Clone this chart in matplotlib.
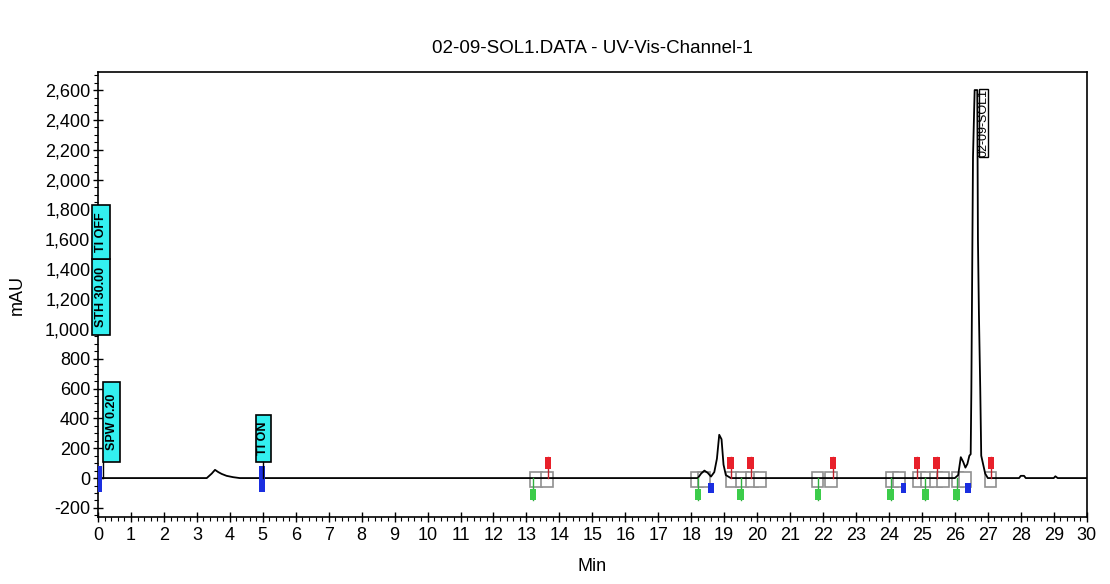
import numpy as np
import matplotlib
matplotlib.use("Agg")
import matplotlib.pyplot as plt
from matplotlib.patches import Rectangle
from matplotlib.ticker import MultipleLocator, FuncFormatter

plt.rcParams['font.family'] = ['Liberation Sans', 'DejaVu Sans']

# chromatogram trace (min, mAU)
t = [0.0, 3.3, 3.45, 3.55, 3.65, 3.75, 3.9, 4.1, 4.3,
     18.2, 18.3, 18.4, 18.5, 18.6, 18.7, 18.78, 18.85, 18.92, 18.98, 19.05, 19.2,
     26.0, 26.1, 26.18, 26.25, 26.32, 26.38, 26.44, 26.48, 26.5, 26.55, 26.6, 26.68,
     26.7, 26.73, 26.77, 26.8, 26.86, 26.92, 27.0,
     27.95, 28.0, 28.1, 28.15, 29.0, 29.05, 29.12, 30.0]
mau = [0, 0, 30, 55, 40, 28, 15, 6, 0,
       0, 30, 50, 35, 10, 40, 130, 290, 260, 90, 20, 0,
       0, 20, 140, 110, 70, 95, 150, 160, 580, 2150, 2600, 2600,
       1600, 1100, 600, 150, 90, 30, 0,
       0, 15, 15, 0, 0, 12, 0, 0]

x_ticks = list(range(0, 31))
y_ticks = list(range(-200, 2601, 200))

# integration marks
red_flags = [13.65, 19.2, 19.8, 22.3, 24.85, 25.45, 27.1]
green_flags = [13.2, 18.2, 19.5, 21.85, 24.05, 25.1, 26.05]
blue_flags = [18.6, 24.45, 26.4]
gray_boxes = [13.1, 13.45, 18.0, 18.22, 19.07, 19.35, 19.67, 19.9, 21.65, 22.07,
              23.9, 24.13, 24.72, 24.98, 25.25, 25.45, 25.9, 26.12, 26.9]

# event labels: (text, x0, x1, y0, y1)
events = [("SPW 0.20", 0.15, 0.67, 107, 643),
          ("STH 30.00", -0.18, 0.36, 958, 1470),
          ("TI OFF", -0.18, 0.36, 1470, 1830),
          ("TI ON", 4.79, 5.25, 107, 422)]

fig = plt.figure(figsize=(11.1, 5.84), dpi=100)
ax = fig.add_axes([0.0883, 0.1147, 0.8907, 0.762])

for x in gray_boxes:
    ax.add_patch(Rectangle((x, -60), 0.36, 100, facecolor='white', edgecolor='#909090', lw=1.2, zorder=2))

ax.plot(t, mau, color='black', lw=1.3, zorder=3)

for x in red_flags:
    ax.plot([x, x], [0, 140], color='#c0202a', lw=1, zorder=4)
    ax.add_patch(Rectangle((x - 0.1, 60), 0.2, 80, facecolor='#e8202a', edgecolor='none', zorder=4))
for x in green_flags:
    ax.plot([x, x], [0, -150], color='#30b040', lw=1, zorder=4)
    ax.add_patch(Rectangle((x - 0.1, -150), 0.2, 80, facecolor='#3ccc4a', edgecolor='none', zorder=4))
for x in blue_flags:
    ax.add_patch(Rectangle((x - 0.08, -100), 0.16, 70, facecolor='#1a2ee0', edgecolor='none', zorder=4))

# blue event bars at 0 and 5 min
ax.add_patch(Rectangle((0.0, -94), 0.12, 174, facecolor='#1a2ee0', edgecolor='none', zorder=4, clip_on=False))
ax.add_patch(Rectangle((4.88, -94), 0.2, 174, facecolor='#1a2ee0', edgecolor='none', zorder=4))

for txt, x0, x1, y0, y1 in events:
    ax.add_patch(Rectangle((x0, y0), x1 - x0, y1 - y0, facecolor='#33f0f0', edgecolor='black',
                           lw=1.2, zorder=5, clip_on=False))
    ax.text((x0 + x1) / 2, (y0 + y1) / 2, txt, rotation=90, ha='center', va='center',
            fontsize=9, fontweight='bold', zorder=6, clip_on=False)
ax.plot([0.15, 0.15], [0, 107], color='black', lw=1, zorder=5)
ax.plot([5.0, 5.0], [0, 107], color='black', lw=1, zorder=5)

# peak label
ax.add_patch(Rectangle((26.74, 2150), 0.28, 460, facecolor='white', edgecolor='black', lw=1, zorder=5))
ax.text(26.88, 2380, "02-09-SOL1", rotation=90, ha='center', va='center', fontsize=9, zorder=6)

ax.set_xlim(0, 30)
ax.set_ylim(-261, 2721)
ax.set_xticks(x_ticks)
ax.set_yticks(y_ticks)
ax.xaxis.set_minor_locator(MultipleLocator(0.2))
ax.yaxis.set_minor_locator(MultipleLocator(50))
ax.yaxis.set_major_formatter(FuncFormatter(lambda v, p: f"{int(v):,}"))
ax.tick_params(axis='both', which='major', direction='inout', length=7, width=1, labelsize=13)
ax.tick_params(axis='both', which='minor', direction='out', length=3, width=0.8)
ax.tick_params(axis='y', pad=2)
for s in ax.spines.values():
    s.set_linewidth(1.2)

ax.set_title("02-09-SOL1.DATA - UV-Vis-Channel-1", fontsize=13.5, pad=14)
ax.set_xlabel("Min", fontsize=13, labelpad=10)
ax.set_ylabel("mAU", fontsize=13, labelpad=14)

fig.savefig("out.png", dpi=100)
